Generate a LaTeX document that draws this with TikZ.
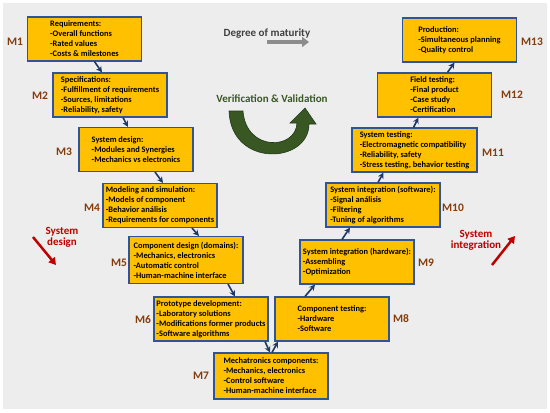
\documentclass[tikz,border=0pt]{standalone}
\usepackage{fontspec}
\setmainfont{Carlito}
\usepackage{xcolor}
\usetikzlibrary{arrows.meta, positioning, calc}
\definecolor{boxfill}{HTML}{FFC000}
\definecolor{boxline}{HTML}{2F5597}
\definecolor{arrblue}{HTML}{1F3864}
\definecolor{mbrown}{HTML}{843C0C}
\definecolor{vvgreen}{HTML}{385723}
\definecolor{vvdark}{HTML}{23381A}
\definecolor{sysred}{HTML}{C00000}
\definecolor{bggray}{HTML}{EDEDED}
\tikzset{
  mbox/.style  = {rectangle, draw=boxline, fill=boxfill, line width=1.1pt,
                  align=left, font=\fontsize{8.4}{10}\selectfont\bfseries,
                  inner sep=2pt, minimum width=114pt, minimum height=44pt},
  mlbl/.style  = {font=\fontsize{11.5}{13}\selectfont\bfseries, text=mbrown},
  arr/.style   = {-{Stealth[length=6pt,width=6pt]}, line width=1.6pt, draw=arrblue},
  big/.style   = {font=\fontsize{11}{13}\selectfont\bfseries, align=center},
}
\begin{document}
\begin{tikzpicture}[x=1pt, y=-1pt]
  \useasboundingbox (0,0) rectangle (550,413);
  \fill[bggray] (3,3) rectangle (547,409);

  % Left branch - design
  \node[mbox] (m1) at (84.5,39) {Requirements:\\-Overall functions\\-Rated values\\-Costs \& milestones};
  \node[mbox] (m2) at (110,95) {Specifications:\\-Fulfillment of requirements\\-Sources, limitations\\-Reliability, safety};
  \node[mbox] (m3) at (136,149.5) {System design:\\-Modules and Synergies\\-Mechanics vs electronics};
  \node[mbox] (m4) at (160,205.5) {Modeling and simulation:\\-Models of component\\-Behavior análisis\\-Requirements for components};
  \node[mbox, minimum height=47pt] (m5) at (186,260) {Component design (domains):\\-Mechanics, electronics\\-Automatic control\\-Human-machine interface};
  \node[mbox] (m6) at (211,319) {Prototype development:\\-Laboratory solutions\\-Modifications former products\\-Software algorithms};
  \node[mbox, minimum height=46pt] (m7) at (271,376) {Mechatronics components:\\-Mechanics, electronics\\-Control software\\-Human-machine interface};

  % Right branch - integration
  \node[mbox] (m8) at (332,319) {Component testing:\\-Hardware\\-Software};
  \node[mbox] (m9) at (357,262) {System integration (hardware):\\-Assembling\\-Optimization};
  \node[mbox] (m10) at (383,205) {System integration (software):\\-Signal análisis\\-Filtering\\-Tuning of algorithms};
  \node[mbox, minimum width=125pt] (m11) at (414.5,150) {System testing:\\-Electromagnetic compatibility\\-Reliability, safety\\-Stress testing, behavior testing};
  \node[mbox] (m12) at (434.5,95) {Field testing:\\-Final product\\-Case study\\-Certification};
  \node[mbox] (m13) at (459.5,40) {Production:\\-Simultaneous planning\\-Quality control};

  % Milestone labels
  \node[mlbl] (l1) at (15,42) {M1};
  \node[mlbl] (l2) at (40,96) {M2};
  \node[mlbl] (l3) at (64,152) {M3};
  \node[mlbl] (l4) at (92,208) {M4};
  \node[mlbl] (l5) at (119,263) {M5};
  \node[mlbl] (l6) at (143,320) {M6};
  \node[mlbl] (l7) at (201,376) {M7};
  \node[mlbl] (l8) at (401,319) {M8};
  \node[mlbl] (l9) at (426,263) {M9};
  \node[mlbl] (l10) at (453,208) {M10};
  \node[mlbl] (l11) at (493,153) {M11};
  \node[mlbl] (l12) at (512,95) {M12};
  \node[mlbl] (l13) at (532,42) {M13};

  % Connectors
  \draw[arr] ([xshift=10pt]m1.south) -- ([xshift=-8pt]m2.north);
  \draw[arr] ([xshift=13pt]m2.south) -- ([xshift=-8pt]m3.north);
  \draw[arr] ([xshift=19pt]m3.south) -- ([xshift=3pt]m4.north);
  \draw[arr] ([xshift=32pt]m4.south) -- ([xshift=13pt]m5.north);
  \draw[arr] ([xshift=42pt]m5.south) -- ([xshift=24pt]m6.north);
  \draw[arr] ([xshift=54pt]m6.south) -- ([xshift=-1pt]m7.north);
  \draw[arr] ([xshift=1pt]m7.north) -- ([xshift=-54pt]m8.south);
  \draw[arr] ([xshift=-27pt]m8.north) -- ([xshift=-42pt]m9.south);
  \draw[arr] ([xshift=-15pt]m9.north) -- ([xshift=-33pt]m10.south);
  \draw[arr] ([xshift=-5pt]m10.north) -- ([xshift=-31pt]m11.south);
  \draw[arr] ([xshift=-1pt]m11.north) -- ([xshift=-16pt]m12.south);
  \draw[arr] ([xshift=13pt]m12.north) -- ([xshift=-5pt]m13.south);

  % Degree of maturity
  \node[big, text=black!75] (deg) at (267,34) {Degree of maturity};
  \coordinate (degA) at (267,42);
  \coordinate (degB) at (309,42);
  \draw[line width=3.5pt, draw=black!45, -{Triangle[length=7pt,width=10pt]}] (degA) -- (degB);

  % Verification & Validation
  \node[big, text=vvgreen] (vv) at (272,99) {Verification \& Validation};
  \filldraw[fill=vvgreen, draw=vvdark, line width=0.6pt]
    (229,111) .. controls (231,168) and (309,164) .. (309,124)
    -- (316,124) -- (305,108) -- (290,123) -- (297,123)
    .. controls (296,150) and (246,152) .. (243,111) -- cycle;

  % System design / integration
  \node[big, text=sysred] (sd) at (62,237) {System\\[-2pt]design};
  \coordinate (sdA) at (33,237);
  \coordinate (sdB) at (56,265);
  \draw[line width=2.5pt, draw=sysred, -{Triangle[length=7pt,width=8pt]}] (sdA) -- (sdB);
  \node[big, text=sysred] (si) at (476,240) {System\\[-2pt]integration};
  \coordinate (siA) at (492,265);
  \coordinate (siB) at (515,236);
  \draw[line width=2.5pt, draw=sysred, -{Triangle[length=7pt,width=8pt]}] (siA) -- (siB);
\end{tikzpicture}
\end{document}
